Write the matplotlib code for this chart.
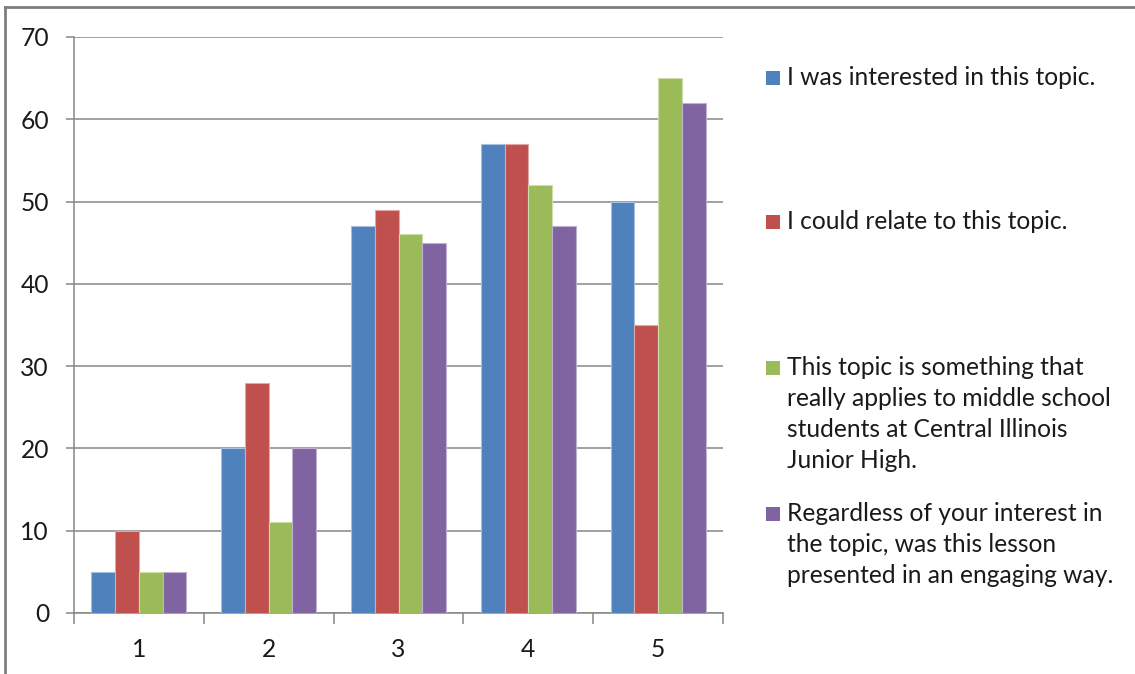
import matplotlib
matplotlib.use("Agg")
import matplotlib.pyplot as plt
from matplotlib.patches import Rectangle
from matplotlib.lines import Line2D
import numpy as np

plt.rcParams['font.family'] = ['Lato', 'DejaVu Sans']

categories = ["1", "2", "3", "4", "5"]
interested = [5, 20, 47, 57, 50]
relate = [10, 28, 49, 57, 35]
applies = [5, 11, 46, 52, 65]
engaging = [5, 20, 45, 47, 62]

series_labels = [
    "I was interested in this topic.",
    "I could relate to this topic.",
    "This topic is something that\nreally applies to middle school\nstudents at Central Illinois\nJunior High.",
    "Regardless of your interest in\nthe topic, was this lesson\npresented in an engaging way.",
]
series_values = [interested, relate, applies, engaging]
colors = ["#4F81BD", "#C0504D", "#9BBB59", "#8064A2"]
edge_colors = ["#A7C0DE", "#E0A8A6", "#CDDDAC", "#BFB1D0"]
yticks = [0, 10, 20, 30, 40, 50, 60, 70]

W, H = 1135, 674
fig = plt.figure(figsize=(W / 100, H / 100), dpi=100)
ax = fig.add_axes([74 / W, 1 - 613 / H, (723 - 74) / W, (613 - 37) / H])

x = np.arange(len(categories))
bw = 0.183
for i, (vals, c, ec) in enumerate(zip(series_values, colors, edge_colors)):
    ax.bar(x + (i - 1.5) * bw, vals, width=bw, color=c, edgecolor=ec,
           linewidth=0.8, zorder=3)

ax.set_xlim(-0.5, len(categories) - 0.5)
ax.set_ylim(0, 70)
ax.set_yticks(yticks)
ax.set_xticks(x)
ax.set_xticklabels(categories)
ax.set_xticks(np.arange(-0.5, len(categories), 1.0), minor=True)

grid_c = "#868686"
ax.yaxis.grid(True, color=grid_c, linewidth=1.1, zorder=0)
ax.set_axisbelow(True)
for s in ["top", "right"]:
    ax.spines[s].set_visible(False)
for s in ["left", "bottom"]:
    ax.spines[s].set_color(grid_c)
    ax.spines[s].set_linewidth(1.1)

fs = 17.7
ax.tick_params(axis="y", length=6, width=1.1, color=grid_c, direction="out",
               labelsize=fs, labelcolor="#1a1a1a", pad=12)
ax.tick_params(axis="x", which="major", length=0, labelsize=fs,
               labelcolor="#1a1a1a", pad=18)
ax.tick_params(axis="x", which="minor", length=8, width=1.1, color=grid_c,
               direction="out")

# chart frame (top and left edges)
fig.add_artist(Line2D([5 / W, 5 / W], [0, 1 - 7 / H], color="#7f7f7f",
                      linewidth=2, transform=fig.transFigure))
fig.add_artist(Line2D([5 / W, 1], [1 - 7 / H, 1 - 7 / H], color="#7f7f7f",
                      linewidth=2, transform=fig.transFigure))

# legend: colour square plus label lines, placed by baseline (pixels from top)
baselines = [85, 229, 375, 521]
line_step = 31
for lab, c, yb in zip(series_labels, colors, baselines):
    fig.add_artist(Rectangle((766 / W, 1 - yb / H), 14 / W, 14 / H,
                             facecolor=c, edgecolor="none",
                             transform=fig.transFigure))
    for k, line in enumerate(lab.split("\n")):
        fig.text(787 / W, 1 - (yb + k * line_step) / H, line, fontsize=fs,
                 color="#1a1a1a", va="baseline", ha="left")

fig.savefig("out.png", dpi=100)
